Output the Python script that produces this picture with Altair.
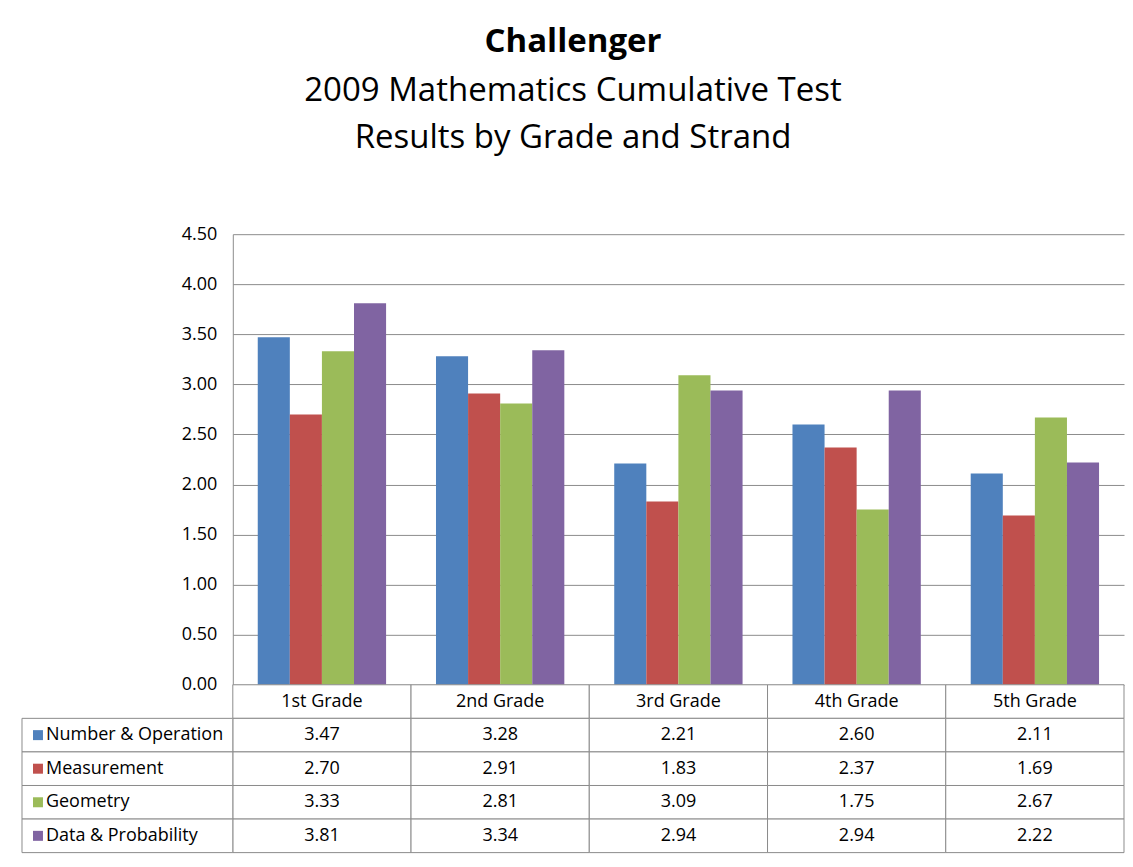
import altair as alt
import pandas as pd

grades = ["1st Grade", "2nd Grade", "3rd Grade", "4th Grade", "5th Grade"]
series = ["Number & Operation", "Measurement", "Geometry", "Data & Probability"]
colors = ["#4F81BD", "#C0504D", "#9BBB59", "#8064A2"]

number_operation = [3.47, 3.28, 2.21, 2.60, 2.11]
measurement = [2.70, 2.91, 1.83, 2.37, 1.69]
geometry = [3.33, 2.81, 3.09, 1.75, 2.67]
data_probability = [3.81, 3.34, 2.94, 2.94, 2.22]

y_ticks = [0.0, 0.5, 1.0, 1.5, 2.0, 2.5, 3.0, 3.5, 4.0, 4.5]

FONT = "Open Sans"
GRID = "#8c8c8c"

values = [number_operation, measurement, geometry, data_probability]
rows = []
for s, vals in zip(series, values):
    for g, v in zip(grades, vals):
        rows.append({"grade": g, "series": s, "row": s, "value": v})
df = pd.DataFrame(rows)

header_key = "header"
row_domain = [header_key] + series
cell_df = pd.DataFrame([{"grade": g, "row": r} for r in row_domain for g in grades])
header_df = pd.DataFrame({"grade": grades, "row": [header_key] * len(grades)})
label_df = pd.DataFrame({"series": series, "row": series})

color = alt.Color("series:N", scale=alt.Scale(domain=series, range=colors), legend=None)

bars = alt.Chart(df).mark_bar().encode(
    x=alt.X("grade:N", sort=grades,
            scale=alt.Scale(domain=grades, paddingInner=0.28, paddingOuter=0.14),
            axis=None),
    xOffset=alt.XOffset("series:N", sort=series, scale=alt.Scale(domain=series)),
    y=alt.Y("value:Q", scale=alt.Scale(domain=[0, 4.5], nice=False),
            axis=alt.Axis(values=y_ticks, format=".2f", grid=True, gridColor=GRID,
                          domainColor=GRID, ticks=False, labelPadding=16,
                          labelFontSize=18, labelFont=FONT, labelColor="black",
                          title=None)),
    color=color,
).properties(width=892, height=451)

xt = alt.X("grade:N", sort=grades,
           scale=alt.Scale(domain=grades, paddingInner=0, paddingOuter=0), axis=None)
yt = alt.Y("row:N", sort=row_domain,
           scale=alt.Scale(domain=row_domain, paddingInner=0, paddingOuter=0), axis=None)

TS = 18
cells = alt.Chart(cell_df).mark_rect(fill="white", stroke=GRID, strokeWidth=1).encode(x=xt, y=yt)
label_cells = alt.Chart(label_df).mark_rect(fill="white", stroke=GRID, strokeWidth=1).encode(
    x=alt.value(-211), x2=alt.value(0), y=yt)
header_text = alt.Chart(header_df).mark_text(font=FONT, fontSize=TS, color="black").encode(
    x=xt, y=yt, text="grade:N")
value_text = alt.Chart(df).mark_text(font=FONT, fontSize=TS, color="black").encode(
    x=xt, y=yt, text=alt.Text("value:Q", format=".2f"))
label_text = alt.Chart(label_df).mark_text(font=FONT, fontSize=TS, color="black", align="left").encode(
    x=alt.value(-187), y=yt, text="series:N")
squares = alt.Chart(label_df).mark_square(size=100, opacity=1).encode(
    x=alt.value(-195), y=yt, color=color)

table = alt.layer(cells, label_cells, header_text, value_text, label_text, squares).properties(
    width=892, height=168)

chart = alt.vconcat(bars, table, spacing=0, bounds="flush").resolve_scale(
    x="independent", y="independent"
).properties(
    title=alt.TitleParams(
        text="Challenger",
        subtitle=["2009 Mathematics Cumulative Test", "Results by Grade and Strand"],
        font=FONT, fontSize=33, fontWeight="bold", color="black",
        subtitleFont=FONT, subtitleFontSize=33, subtitleColor="black",
        subtitleLineHeight=47, subtitlePadding=16, anchor="middle", offset=70,
    ),
    padding={"left": 13, "top": 18, "right": 0, "bottom": 5},
).configure_view(stroke=None)

chart.save("out.html", embed_options={"renderer": "svg", "actions": False})
